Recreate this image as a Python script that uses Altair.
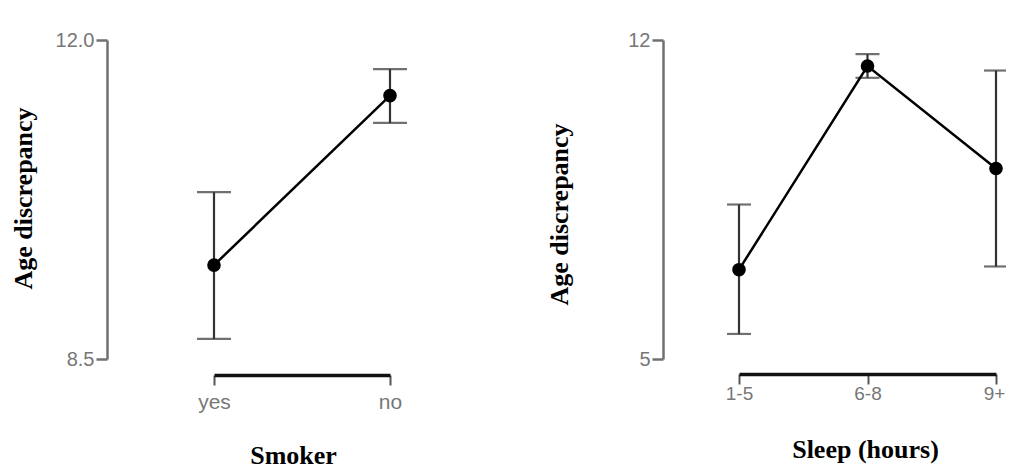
import altair as alt
import pandas as pd

# ---- data ----
smoker_cats = ["yes", "no"]
smoker_mean = [9.53, 11.39]
smoker_lo = [8.72, 11.09]
smoker_hi = [10.33, 11.68]

sleep_cats = ["1-5", "6-8", "9+"]
sleep_mean = [6.96, 11.43, 9.18]
sleep_lo = [5.55, 11.17, 7.03]
sleep_hi = [8.39, 11.69, 11.33]

smoker_df = pd.DataFrame({"cat": smoker_cats, "mean": smoker_mean,
                          "lo": smoker_lo, "hi": smoker_hi,
                          "ord": list(range(len(smoker_cats)))})
sleep_df = pd.DataFrame({"cat": sleep_cats, "mean": sleep_mean,
                         "lo": sleep_lo, "hi": sleep_hi,
                         "ord": list(range(len(sleep_cats)))})

SANS = "Liberation Sans"
SERIF = "Liberation Serif"


def panel(df, cats, xrange, ydomain, yvals, yfmt, yoffset, ytitle_x, ytitle_y,
          xtitle, xoffset, xlabpad, xlabsize, xtitle_x, xtitle_y, cap, laboff):
    xaxis = alt.Axis(
        orient="bottom", offset=xoffset, domainColor="#111111", domainWidth=3.5,
        tickColor="#555555", tickWidth=2, tickSize=10, labelAngle=0,
        labelColor="#777777", labelFont=SANS, labelFontSize=xlabsize,
        labelPadding=xlabpad, labelOffset=laboff, grid=False,
        title=xtitle, titleFont=SERIF, titleFontWeight="bold", titleFontSize=26,
        titleColor="black", titleX=xtitle_x, titleY=xtitle_y,
        titleBaseline="alphabetic", titleAlign="center",
    )
    yaxis = alt.Axis(
        orient="left", offset=yoffset, values=yvals, format=yfmt,
        domainColor="#707070", domainWidth=2.5, tickColor="#707070", tickWidth=2.5,
        tickSize=11, labelColor="#777777", labelFont=SANS, labelFontSize=20,
        labelPadding=2, grid=False,
        title="Age discrepancy", titleFont=SERIF, titleFontWeight="bold",
        titleFontSize=26, titleColor="black", titleAngle=270,
        titleX=ytitle_x, titleY=ytitle_y, titleBaseline="middle",
        titleAlign="center",
    )
    xs = alt.Scale(type="point", domain=cats, range=xrange, padding=0)
    ys = alt.Scale(domain=ydomain, nice=False, zero=False)
    x = alt.X("cat:N", scale=xs, axis=xaxis, sort=cats)
    base = alt.Chart(df)
    err = base.mark_rule(color="#333333", strokeWidth=2.2).encode(
        x=x, y=alt.Y("lo:Q", scale=ys, axis=yaxis), y2="hi:Q")
    cap_lo = base.mark_tick(color="#333333", thickness=2.2, size=cap).encode(
        x=x, y=alt.Y("lo:Q", scale=ys, axis=yaxis))
    cap_hi = base.mark_tick(color="#333333", thickness=2.2, size=cap).encode(
        x=x, y=alt.Y("hi:Q", scale=ys, axis=yaxis))
    line = base.mark_line(color="black", strokeWidth=2.5).encode(
        x=x, y=alt.Y("mean:Q", scale=ys, axis=yaxis), order="ord:Q")
    pts = base.mark_circle(color="black", size=185, opacity=1).encode(
        x=x, y=alt.Y("mean:Q", scale=ys, axis=yaxis))
    return alt.layer(err, cap_lo, cap_hi, line, pts)


left = panel(smoker_df, smoker_cats, [107, 283], [8.5, 12.0], [8.5, 12.0], ".1f",
             0, -84, 158, "Smoker", 16, 6, 21, 186, 88, 34, 0)
right = panel(sleep_df, sleep_cats, [632, 889], [5, 12], [5, 12], "d",
              -556, -104, 174, "Sleep (hours)", 15, 0, 19, 758, 83, 24,
              {"condition": {"test": "datum.value === '9+'", "value": -2}, "value": 0})

chart = alt.layer(left, right).resolve_scale(
    x="independent", y="independent"
).resolve_axis(
    x="independent", y="independent"
).properties(
    width=899, height=319,
    autosize=alt.AutoSizeParams(type="none"),
    padding={"left": 99, "top": 32, "right": 0, "bottom": 110},
).configure_view(stroke=None)

chart.save("out.html", embed_options={"renderer": "svg", "actions": False})
